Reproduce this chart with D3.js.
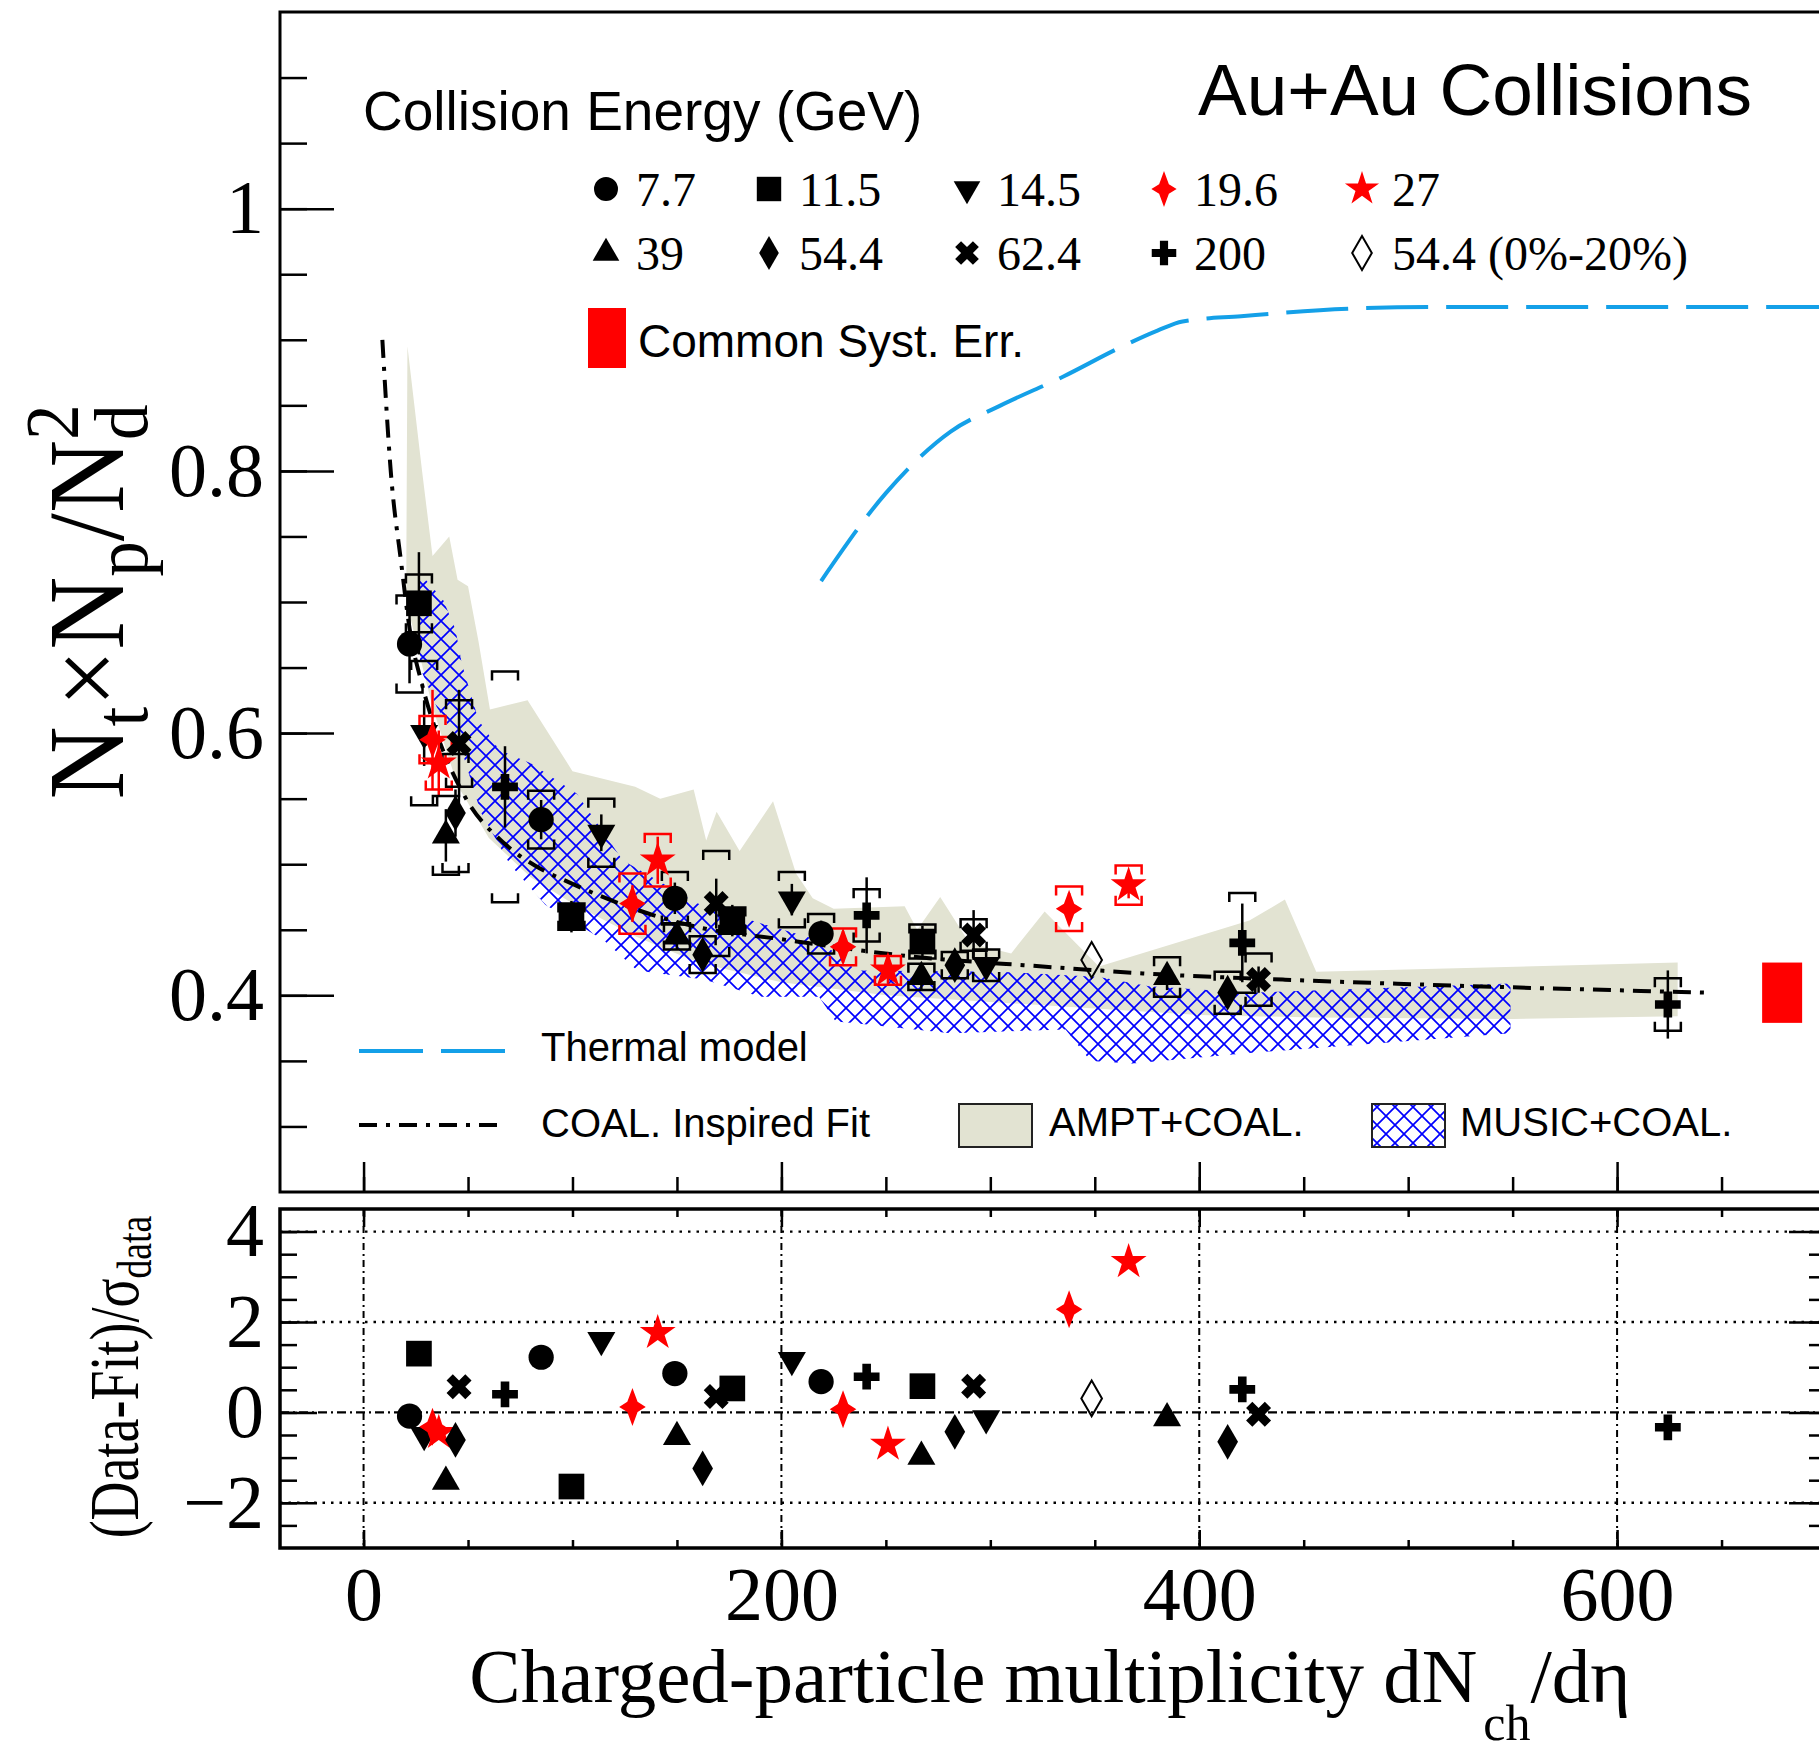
<!DOCTYPE html>
<html>
<head>
<meta charset="utf-8">
<script src="https://cdn.jsdelivr.net/npm/d3@7"></script>
<style>
  body { margin: 0; background: #fff; }
  svg { display: block; }
  .serif { font-family: "Liberation Serif", "Times New Roman", serif; }
  .sans { font-family: "Liberation Sans", Arial, Helvetica, sans-serif; }
</style>
</head>
<body>
<svg id="chart" width="1819" height="1753"></svg>
<script>
// ---- data ----
const energies = ["7.7", "11.5", "14.5", "19.6", "27", "39", "54.4", "62.4", "200", "54.4 (0%-20%)"];

// [energy, dNch/deta, Nt*Np/Nd^2, stat, syst, (data-fit)/sigma]
const measurements = [
  ["7.7", 22, 0.668, 0.030, 0.037, -0.08],
  ["7.7", 85, 0.534, 0.015, 0.022, 1.22],
  ["7.7", 149, 0.474, 0.012, 0.020, 0.86],
  ["7.7", 219, 0.447, 0.010, 0.015, 0.68],
  ["11.5", 26.5, 0.699, 0.039, 0.022, 1.30],
  ["11.5", 99.5, 0.460, 0.012, 0.010, -1.64],
  ["11.5", 176.5, 0.457, 0.012, 0.010, 0.53],
  ["11.5", 267.5, 0.441, 0.012, 0.013, 0.58],
  ["14.5", 29, 0.600, 0.025, 0.055, -0.50],
  ["14.5", 113.8, 0.524, 0.014, 0.026, 1.60],
  ["14.5", 205, 0.473, 0.012, 0.021, 1.16],
  ["14.5", 298, 0.423, 0.010, 0.012, -0.13],
  ["19.6", 33, 0.595, 0.038, 0.018, -0.32],
  ["19.6", 128.7, 0.470, 0.014, 0.023, 0.12],
  ["19.6", 229.5, 0.437, 0.012, 0.014, 0.07],
  ["19.6", 337.7, 0.466, 0.012, 0.017, 2.28],
  ["27", 36, 0.577, 0.025, 0.020, -0.45],
  ["27", 140.8, 0.503, 0.018, 0.020, 1.76],
  ["27", 251, 0.419, 0.010, 0.011, -0.71],
  ["27", 366.2, 0.484, 0.010, 0.015, 3.33],
  ["39", 39.4, 0.522, 0.020, 0.030, -1.53],
  ["39", 150, 0.445, 0.010, 0.010, -0.54],
  ["39", 267, 0.414, 0.010, 0.010, -0.98],
  ["39", 384.6, 0.414, 0.010, 0.015, -0.13],
  ["54.4", 44, 0.539, 0.018, 0.045, -0.61],
  ["54.4", 162.3, 0.431, 0.010, 0.014, -1.24],
  ["54.4", 283, 0.423, 0.008, 0.010, -0.43],
  ["54.4", 413.6, 0.402, 0.008, 0.016, -0.65],
  ["62.4", 45.7, 0.592, 0.041, 0.033, 0.57],
  ["62.4", 168.8, 0.470, 0.019, 0.040, 0.35],
  ["62.4", 292, 0.446, 0.019, 0.012, 0.58],
  ["62.4", 428.4, 0.412, 0.010, 0.020, -0.04],
  ["200", 67.7, 0.559, 0.031, 0.088, 0.40],
  ["200", 240.8, 0.461, 0.029, 0.020, 0.79],
  ["200", 420.6, 0.440, 0.030, 0.038, 0.51],
  ["200", 624.3, 0.393, 0.026, 0.020, -0.33],
  ["54.4 (0%-20%)", 348.5, 0.427, 0, 0, 0.31]
];

// COAL. inspired fit
const fitX = [9, 13, 18, 22, 28, 35, 48, 68, 82, 100, 126, 160, 199, 260, 325, 381, 440, 492, 645];
const fitY = [0.90, 0.80, 0.73, 0.68, 0.637, 0.60, 0.553, 0.515, 0.499, 0.485, 0.468, 0.452, 0.443, 0.43, 0.422, 0.416, 0.412, 0.409, 0.402];

// thermal model
const thermalX = [219, 250, 281, 305, 335, 362, 380, 392, 420, 476, 520, 700];
const thermalY = [0.716, 0.783, 0.83, 0.85, 0.872, 0.894, 0.907, 0.914, 0.918, 0.924, 0.925, 0.925];

// AMPT+COAL. band
const amptUpperX = [20.5, 21, 28, 33, 41, 45, 50, 55, 60.5, 78.5, 100, 130, 142, 158, 164, 169, 180, 196, 207, 215, 225, 259, 265, 276, 290, 310, 326, 352, 424, 441, 456, 629];
const amptUpperY = [0.74, 0.895, 0.80, 0.735, 0.75, 0.717, 0.712, 0.67, 0.618, 0.625, 0.571, 0.559, 0.55, 0.557, 0.518, 0.54, 0.51, 0.548, 0.493, 0.474, 0.466, 0.468, 0.45, 0.475, 0.44, 0.432, 0.464, 0.422, 0.457, 0.473, 0.418, 0.425];
const amptLowerX = [20.5, 33, 45, 60, 80, 100, 130, 160, 200, 250, 300, 350, 400, 456, 550, 629];
const amptLowerY = [0.70, 0.62, 0.56, 0.52, 0.49, 0.47, 0.445, 0.425, 0.41, 0.40, 0.395, 0.39, 0.385, 0.383, 0.382, 0.384];

// MUSIC+COAL. band
const musicUpperX = [27, 38, 44, 47, 55, 65, 80, 102, 124, 160, 190, 218, 236, 305, 352, 376, 424, 549];
const musicUpperY = [0.722, 0.702, 0.679, 0.653, 0.61, 0.587, 0.577, 0.554, 0.503, 0.47, 0.455, 0.442, 0.419, 0.418, 0.414, 0.407, 0.402, 0.409];
const musicLowerX = [27, 35, 46, 56, 70, 87, 115, 131, 163, 190, 218, 226, 233, 281, 336, 348, 368, 424, 549];
const musicLowerY = [0.65, 0.62, 0.592, 0.54, 0.50, 0.469, 0.442, 0.419, 0.412, 0.399, 0.399, 0.380, 0.379, 0.371, 0.374, 0.350, 0.348, 0.356, 0.371];

// common systematic error [dNch/deta, centre, half-height]
const commonSyst = [679, 0.402, 0.023];

const xTickLabels = [0, 200, 400, 600];
const yTopTickLabels = [0.4, 0.6, 0.8, 1];
const yBotTickLabels = [-2, 0, 2, 4];

// ---- setup ----
const svg = d3.select("#chart");
const x = d3.scaleLinear().domain([-40, 700]).range([280, 1826]);
const yTop = d3.scaleLinear().domain([0.25, 1.15]).range([1192, 12]);
const yBot = d3.scaleLinear().domain([-3, 4.5]).range([1548, 1209]);

const RED = "#ff0000";
const BEIGE = "#e2e3d2";
const AZURE = "#14a0e8";

// four pointed star (19.6 GeV)
const star4 = {
  draw(ctx, size) {
    const r = Math.sqrt(size), w = r * 0.7, i = r * 0.27;
    ctx.moveTo(0, -r); ctx.lineTo(i, -i); ctx.lineTo(w, 0); ctx.lineTo(i, i);
    ctx.lineTo(0, r); ctx.lineTo(-i, i); ctx.lineTo(-w, 0); ctx.lineTo(-i, -i);
    ctx.closePath();
  }
};

const markerStyle = {
  "7.7": { type: d3.symbolCircle, size: 500, color: "#000", rot: 0 },
  "11.5": { type: d3.symbolSquare, size: 660, color: "#000", rot: 0 },
  "14.5": { type: d3.symbolTriangle, size: 340, color: "#000", rot: 180 },
  "19.6": { type: star4, size: 361, color: RED, rot: 0 },
  "27": { type: d3.symbolStar, size: 400, color: RED, rot: 0 },
  "39": { type: d3.symbolTriangle, size: 340, color: "#000", rot: 0 },
  "54.4": { type: d3.symbolDiamond, size: 370, color: "#000", rot: 0 },
  "62.4": { type: d3.symbolCross, size: 390, color: "#000", rot: 45 },
  "200": { type: d3.symbolCross, size: 370, color: "#000", rot: 0 },
  "54.4 (0%-20%)": { type: d3.symbolDiamond, size: 370, color: "#000", rot: 0, open: true }
};

function drawMarker(g, e, px, py, scale = 1) {
  const s = markerStyle[e];
  g.append("path")
    .attr("d", d3.symbol().type(s.type).size(s.size * scale * scale)())
    .attr("transform", `translate(${px},${py}) rotate(${s.rot})`)
    .attr("fill", s.open ? "none" : s.color)
    .attr("stroke", s.open ? s.color : "none")
    .attr("stroke-width", 2);
}

const defs = svg.append("defs");
defs.append("clipPath").attr("id", "clipTop")
  .append("rect").attr("x", 280).attr("y", 12).attr("width", 1546).attr("height", 1180);
defs.append("clipPath").attr("id", "clipBot")
  .append("rect").attr("x", 280).attr("y", 1209).attr("width", 1546).attr("height", 339);
const hatch = defs.append("pattern").attr("id", "hatch")
  .attr("patternUnits", "userSpaceOnUse").attr("width", 18).attr("height", 18);
hatch.append("path").attr("d", "M0,0L18,18M0,18L18,0M-2,2L2,-2M16,20L20,16M-2,16L2,20M16,-2L20,2")
  .attr("stroke", "#0000ff").attr("stroke-width", 1.7).attr("fill", "none");

// ---- upper panel ----
const upper = svg.append("g").attr("clip-path", "url(#clipTop)");

const bandLine = d3.line().curve(d3.curveLinearClosed);
const amptPts = amptUpperX.map((v, i) => [x(v), yTop(amptUpperY[i])])
  .concat(amptLowerX.map((v, i) => [x(v), yTop(amptLowerY[i])]).reverse());
upper.append("path").attr("d", bandLine(amptPts)).attr("fill", BEIGE);

const musicPts = musicUpperX.map((v, i) => [x(v), yTop(musicUpperY[i])])
  .concat(musicLowerX.map((v, i) => [x(v), yTop(musicLowerY[i])]).reverse());
upper.append("path").attr("d", bandLine(musicPts)).attr("fill", "url(#hatch)");

upper.append("path")
  .attr("d", d3.line().curve(d3.curveMonotoneX)(fitX.map((v, i) => [x(v), yTop(fitY[i])])))
  .attr("fill", "none").attr("stroke", "#000").attr("stroke-width", 4)
  .attr("stroke-dasharray", "18,9,4,9");

upper.append("path")
  .attr("d", d3.line().curve(d3.curveMonotoneX)(thermalX.map((v, i) => [x(v), yTop(thermalY[i])])))
  .attr("fill", "none").attr("stroke", AZURE).attr("stroke-width", 4)
  .attr("stroke-dasharray", "62,18");

// common syst. err box
upper.append("rect")
  .attr("x", x(commonSyst[0]) - 20).attr("width", 40)
  .attr("y", yTop(commonSyst[1] + commonSyst[2]))
  .attr("height", yTop(commonSyst[1] - commonSyst[2]) - yTop(commonSyst[1] + commonSyst[2]))
  .attr("fill", RED);

// data points
const pts = upper.append("g");
measurements.forEach(([e, xv, yv, stat, syst]) => {
  const c = markerStyle[e].color;
  const px = x(xv);
  if (syst > 0) {
    const yt = yTop(yv + syst), yb = yTop(yv - syst);
    pts.append("path")
      .attr("d", `M${px - 13},${yt + 9}V${yt}H${px + 13}V${yt + 9}M${px - 13},${yb - 9}V${yb}H${px + 13}V${yb - 9}`)
      .attr("fill", "none").attr("stroke", c).attr("stroke-width", 2.5);
  }
  if (stat > 0) {
    pts.append("line").attr("x1", px).attr("x2", px)
      .attr("y1", yTop(yv + stat)).attr("y2", yTop(yv - stat))
      .attr("stroke", c).attr("stroke-width", 2.5);
  }
});
measurements.forEach(([e, xv, yv]) => drawMarker(pts, e, x(xv), yTop(yv)));

// ---- lower panel ----
const lower = svg.append("g").attr("clip-path", "url(#clipBot)");
xTickLabels.forEach(v => {
  lower.append("line").attr("x1", x(v)).attr("x2", x(v)).attr("y1", 1209).attr("y2", 1548)
    .attr("stroke", "#000").attr("stroke-width", 2).attr("stroke-dasharray", "7,4,2,4");
});
yBotTickLabels.forEach(v => {
  lower.append("line").attr("x1", 280).attr("x2", 1826).attr("y1", yBot(v)).attr("y2", yBot(v))
    .attr("stroke", "#000").attr("stroke-width", 2.4)
    .attr("stroke-dasharray", v === 0 ? "9,4,2,4" : "2.5,6");
});
measurements.forEach(([e, xv, , , , pull]) => drawMarker(lower, e, x(xv), yBot(pull)));

// ---- axes ----
function styleAxis(g, fontSize) {
  g.select(".domain").remove();
  g.selectAll(".tick line").attr("stroke", "#000").attr("stroke-width", 2.5);
  g.selectAll("text").attr("class", "serif")
    .attr("font-size", fontSize).attr("fill", "#000");
  g.attr("font-family", null).attr("font-size", null);
}
const xMinor = d3.range(0, 701, 50);
const yTopMinor = d3.range(0.3, 1.1001, 0.05);
const yBotMinor = d3.range(-2.5, 4.001, 0.5);
const yTopFmt = d => d === 1 ? "1" : d.toFixed(1);
const yBotFmt = d => d < 0 ? "\u2212" + Math.abs(d) : String(d);

// upper panel
svg.append("g").attr("transform", "translate(280,0)")
  .call(d3.axisLeft(yTop).tickValues(yTopMinor).tickSize(-27).tickFormat(""))
  .call(g => styleAxis(g, 0));
svg.append("g").attr("transform", "translate(280,0)")
  .call(d3.axisLeft(yTop).tickValues(yTopTickLabels).tickSize(-54).tickPadding(16).tickFormat(yTopFmt))
  .call(g => styleAxis(g, 76));
svg.append("g").attr("transform", "translate(0,1192)")
  .call(d3.axisBottom(x).tickValues(xMinor).tickSize(-15).tickFormat(""))
  .call(g => styleAxis(g, 0));
svg.append("g").attr("transform", "translate(0,1192)")
  .call(d3.axisBottom(x).tickValues(xTickLabels).tickSize(-30).tickFormat(""))
  .call(g => styleAxis(g, 0));

// lower panel
svg.append("g").attr("transform", "translate(280,0)")
  .call(d3.axisLeft(yBot).tickValues(yBotMinor).tickSize(-17).tickFormat(""))
  .call(g => styleAxis(g, 0));
svg.append("g").attr("transform", "translate(280,0)")
  .call(d3.axisLeft(yBot).tickValues(yBotTickLabels).tickSize(-37).tickPadding(16).tickFormat(yBotFmt))
  .call(g => styleAxis(g, 76));
svg.append("g").attr("transform", "translate(1826,0)")
  .call(d3.axisRight(yBot).tickValues(yBotMinor).tickSize(-17).tickFormat(""))
  .call(g => styleAxis(g, 0));
svg.append("g").attr("transform", "translate(1826,0)")
  .call(d3.axisRight(yBot).tickValues(yBotTickLabels).tickSize(-37).tickFormat(""))
  .call(g => styleAxis(g, 0));
svg.append("g").attr("transform", "translate(0,1209)")
  .call(d3.axisTop(x).tickValues(xMinor).tickSize(-8).tickFormat(""))
  .call(g => styleAxis(g, 0));
svg.append("g").attr("transform", "translate(0,1209)")
  .call(d3.axisTop(x).tickValues(xTickLabels).tickSize(-18).tickFormat(""))
  .call(g => styleAxis(g, 0));
svg.append("g").attr("transform", "translate(0,1548)")
  .call(d3.axisBottom(x).tickValues(xMinor).tickSize(-8).tickFormat(""))
  .call(g => styleAxis(g, 0));
svg.append("g").attr("transform", "translate(0,1548)")
  .call(d3.axisBottom(x).tickValues(xTickLabels).tickSize(-18).tickPadding(18).tickFormat(d3.format("d")))
  .call(g => styleAxis(g, 76));

// frames
svg.append("rect").attr("x", 280).attr("y", 12).attr("width", 1546).attr("height", 1180)
  .attr("fill", "none").attr("stroke", "#000").attr("stroke-width", 3);
svg.append("rect").attr("x", 280).attr("y", 1209).attr("width", 1546).attr("height", 339)
  .attr("fill", "none").attr("stroke", "#000").attr("stroke-width", 3.5);

// ---- axis titles ----
const yTitle = svg.append("g").attr("transform", "translate(123,602) rotate(-90)")
  .append("text").attr("class", "serif").attr("font-size", 108).attr("text-anchor", "middle");
yTitle.append("tspan").text("N");
yTitle.append("tspan").attr("font-size", 76).attr("dy", 24).text("t");
yTitle.append("tspan").attr("dy", -24).text("\u00d7N");
yTitle.append("tspan").attr("font-size", 76).attr("dy", 24).text("p");
yTitle.append("tspan").attr("dy", -24).text("/N");
yTitle.append("tspan").attr("font-size", 76).attr("dy", -45).text("2");
yTitle.append("tspan").attr("font-size", 76).attr("dx", -38).attr("dy", 69).text("d");
const yb1 = yTitle.node().getBBox();
yTitle.attr("transform", `scale(${395 / yb1.width},1)`);

const pTitle = svg.append("g").attr("transform", "translate(138,1377) rotate(-90)")
  .append("text").attr("class", "serif").attr("font-size", 70).attr("text-anchor", "middle");
pTitle.append("tspan").text("(Data-Fit)/\u03c3");
pTitle.append("tspan").attr("font-size", 49).attr("dy", 13).text("data");
const pb = pTitle.node().getBBox();
pTitle.attr("transform", `scale(${323 / pb.width},1)`);

const xTitle = svg.append("text").attr("class", "serif").attr("font-size", 77)
  .attr("x", 1050).attr("y", 1702).attr("text-anchor", "middle");
xTitle.append("tspan").text("Charged-particle multiplicity dN");
xTitle.append("tspan").attr("font-size", 50).attr("dx", 6).attr("dy", 38).text("ch");
xTitle.append("tspan").attr("dy", -38).text("/d\u03b7");

// ---- legend ----
svg.append("text").attr("class", "sans").attr("font-size", 73)
  .attr("x", 1198).attr("y", 115).text("Au+Au Collisions");
svg.append("text").attr("class", "sans").attr("font-size", 55)
  .attr("x", 363).attr("y", 130).text("Collision Energy (GeV)");

const legCols = [606, 769, 967, 1164, 1362];
const legRows = [189, 253];
const leg = svg.append("g");
energies.forEach((e, i) => {
  const cx = legCols[i % 5], cy = legRows[Math.floor(i / 5)];
  drawMarker(leg, e, cx, cy, 0.95);
  leg.append("text").attr("class", "serif").attr("font-size", 48)
    .attr("x", cx + 30).attr("y", cy + 17).text(e);
});

leg.append("rect").attr("x", 588).attr("y", 308).attr("width", 38).attr("height", 60).attr("fill", RED);
leg.append("text").attr("class", "sans").attr("font-size", 46)
  .attr("x", 638).attr("y", 357).text("Common Syst. Err.");

leg.append("line").attr("x1", 359).attr("x2", 506).attr("y1", 1051).attr("y2", 1051)
  .attr("stroke", AZURE).attr("stroke-width", 4).attr("stroke-dasharray", "64,18");
leg.append("text").attr("class", "sans").attr("font-size", 40)
  .attr("x", 541).attr("y", 1061).text("Thermal model");

leg.append("line").attr("x1", 359).attr("x2", 506).attr("y1", 1125).attr("y2", 1125)
  .attr("stroke", "#000").attr("stroke-width", 4).attr("stroke-dasharray", "18,9,4,9");
leg.append("text").attr("class", "sans").attr("font-size", 40)
  .attr("x", 541).attr("y", 1137).text("COAL. Inspired Fit");

leg.append("rect").attr("x", 959).attr("y", 1104).attr("width", 73).attr("height", 43)
  .attr("fill", BEIGE).attr("stroke", "#222").attr("stroke-width", 2);
leg.append("text").attr("class", "sans").attr("font-size", 40)
  .attr("x", 1049).attr("y", 1136).text("AMPT+COAL.");

leg.append("rect").attr("x", 1372).attr("y", 1104).attr("width", 73).attr("height", 43)
  .attr("fill", "url(#hatch)").attr("stroke", "#222").attr("stroke-width", 2);
leg.append("text").attr("class", "sans").attr("font-size", 40)
  .attr("x", 1460).attr("y", 1136).text("MUSIC+COAL.");
</script>
</body>
</html>
